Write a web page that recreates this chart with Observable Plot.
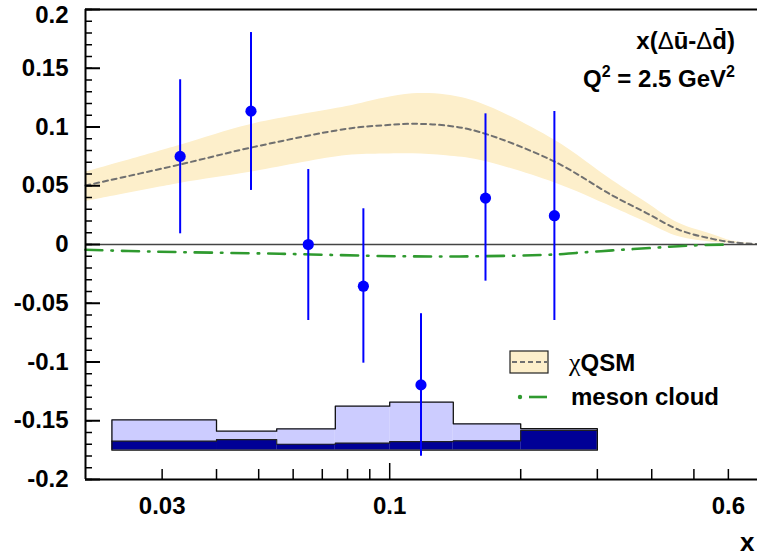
<!DOCTYPE html>
<html><head><meta charset="utf-8">
<script src="https://cdn.jsdelivr.net/npm/d3@7"></script>
<script src="https://cdn.jsdelivr.net/npm/@observablehq/plot@0.6"></script>
<style>
body{margin:0;background:#fff;}
#chart{position:relative;width:757px;height:556px;}
</style></head><body><div id="chart"></div>
<script>
// HERMES data points x(Δū-Δd̄)
const pointX  = [0.033, 0.048, 0.065, 0.087, 0.118, 0.166, 0.239];
const pointY  = [0.075, 0.1135, 0.0, -0.0355, -0.1195, 0.0395, 0.0245];
const pointHi = [0.1402, 0.1804, 0.0638, 0.0304, -0.0589, 0.1112, 0.1132];
const pointLo = [0.0091, 0.046, -0.0647, -0.101, -0.1802, -0.0312, -0.0647];

// chiral quark soliton model band
const qsmX   = [0.02, 0.0329, 0.0478, 0.0797, 0.097, 0.113, 0.135, 0.161, 0.239, 0.325, 0.388, 0.462, 0.551, 0.612, 0.7];
const qsmMid = [0.0502, 0.068, 0.0823, 0.0985, 0.1015, 0.1027, 0.1012, 0.0957, 0.0706, 0.0417, 0.027, 0.0125, 0.0048, 0.002, 0.0003];
const qsmHi  = [0.0615, 0.0843, 0.102, 0.1174, 0.1245, 0.1282, 0.1272, 0.1204, 0.089, 0.0545, 0.036, 0.018, 0.0085, 0.003, 0.0005];
const qsmLo  = [0.0366, 0.052, 0.0615, 0.0757, 0.0770, 0.0772, 0.0755, 0.0717, 0.0525, 0.0317, 0.019, 0.0065, 0.002, 0.001, 0.0001];

// meson cloud model
const mesonX = [0.02, 0.0282, 0.0559, 0.1054, 0.161, 0.239, 0.268, 0.325, 0.397, 0.483, 0.6];
const mesonY = [-0.0045, -0.006, -0.0079, -0.0100, -0.0100, -0.0085, -0.0072, -0.005, -0.003, -0.001, 0.0];

// systematic uncertainty histogram
const binLo    = [0.023, 0.04, 0.055, 0.075, 0.1, 0.14, 0.2];
const binHi    = [0.04, 0.055, 0.075, 0.1, 0.14, 0.2, 0.3];
const sysBase  = -0.175;
const darkTop  = [-0.1674, -0.166, -0.170, -0.1691, -0.1677, -0.1671, -0.1583];
const lightTop = [-0.1492, -0.1589, -0.1569, -0.1376, -0.1342, -0.1526, -0.1568];

// ticks
const yMajor = [-0.2, -0.15, -0.1, -0.05, 0, 0.05, 0.1, 0.15, 0.2];
const yLabels = [-0.2, -0.15, -0.1, -0.05, 0, 0.05, 0.1, 0.15];
const yTopLabel = [0.2];
const yMinor = d3.range(-20, 21).map(i => i / 100);
const xMinor = [0.03, 0.04, 0.05, 0.06, 0.07, 0.08, 0.09, 0.2, 0.3, 0.4, 0.5, 0.6];
const xMajor = [0.1];
const xLabels = [0.03, 0.1, 0.6];

const points = pointX.map((x, i) => ({x, y: pointY[i], hi: pointHi[i], lo: pointLo[i]}));
const qsm = qsmX.map((x, i) => ({x, mid: qsmMid[i], hi: qsmHi[i], lo: qsmLo[i]}));
const meson = mesonX.map((x, i) => ({x, y: mesonY[i]}));
const bins = binLo.map((lo, i) => ({lo, hi: binHi[i], base: sysBase, dark: darkTop[i], light: lightTop[i]}));
const n = bins.length;
const outline = [{x: binLo[0], y: sysBase}]
  .concat(bins.map(b => ({x: b.lo, y: b.light})))
  .concat([{x: binHi[n-1], y: lightTop[n-1]}, {x: binHi[n-1], y: sysBase}, {x: binLo[0], y: sysBase}]);
const darkLine = bins.map(b => ({x: b.lo, y: b.dark})).concat([{x: binHi[n-1], y: darkTop[n-1]}]);

const W = 757, H = 556, mL = 85, mR = 0, mT = 9, mB = 77;
const plotW = W - mL - mR, plotH = H - mT - mB;
const fmt = d => String(+d.toFixed(2));
const FONT = "'Liberation Sans', Arial, sans-serif";

const chart = Plot.plot({
  width: W, height: H, marginLeft: mL, marginRight: mR, marginTop: mT, marginBottom: mB,
  style: {fontFamily: FONT, fontSize: "24px", fontWeight: "bold", background: "#fff", overflow: "visible", color: "#000"},
  x: {type: "log", domain: [0.02, 0.7], axis: null},
  y: {domain: [-0.2, 0.2], axis: null},
  marks: [
    Plot.areaY(qsm, {x: "x", y1: "lo", y2: "hi", fill: "#fdefcb", curve: "catmull-rom"}),
    Plot.line(qsm, {x: "x", y: "mid", stroke: "#707070", strokeWidth: 2, strokeDasharray: "5,4", curve: "catmull-rom"}),
    Plot.ruleY([0], {stroke: "#444", strokeWidth: 1.3}),
    Plot.line(meson, {x: "x", y: "y", stroke: "#2f9a2f", strokeWidth: 2.6, strokeDasharray: "17,9,1.5,9", strokeLinecap: "round", curve: "catmull-rom"}),
    Plot.rect(bins, {x1: "lo", x2: "hi", y1: "base", y2: "dark", fill: "#000096"}),
    Plot.rect(bins, {x1: "lo", x2: "hi", y1: "dark", y2: "light", fill: "#ccccff"}),
    Plot.line(darkLine, {x: "x", y: "y", curve: "step-after", stroke: "#222", strokeWidth: 1.2}),
    Plot.line(outline, {x: "x", y: "y", curve: "step-after", stroke: "#111", strokeWidth: 1.3}),
    Plot.ruleX(points, {x: "x", y1: "lo", y2: "hi", stroke: "#0000ff", strokeWidth: 2}),
    Plot.dot(points, {x: "x", y: "y", r: 5.6, fill: "#0000ff"}),
    // frame and axes
    Plot.ruleX([0.02], {stroke: "#000", strokeWidth: 2}),
    Plot.ruleY([-0.2], {stroke: "#000", strokeWidth: 2}),
    Plot.ruleY([0.2], {stroke: "#000", strokeWidth: 2}),
    Plot.ruleY(yMinor, {y: d => d, insetRight: plotW - 7, stroke: "#000", strokeWidth: 1.5}),
    Plot.ruleY(yMajor, {y: d => d, insetRight: plotW - 15, stroke: "#000", strokeWidth: 2}),
    Plot.ruleX(xMinor, {x: d => d, insetTop: plotH - 10, stroke: "#000", strokeWidth: 1.5}),
    Plot.ruleX(xMajor, {x: d => d, insetTop: plotH - 16, stroke: "#000", strokeWidth: 1.5}),
    Plot.axisY({ticks: yLabels, tickSize: 0, tickPadding: 17, tickFormat: fmt, label: null}),
    Plot.axisY({ticks: yTopLabel, tickSize: 0, tickPadding: 17, tickFormat: fmt, label: null, dy: 6}),
    Plot.axisX({ticks: xLabels, tickSize: 0, tickPadding: 17, tickFormat: d => String(d), label: null}),
    Plot.text(["x"], {frameAnchor: "bottom-right", textAnchor: "end", lineAnchor: "middle", dy: 63, dx: -3, fontSize: 26})
  ]
});
document.getElementById("chart").appendChild(chart);

const svg = d3.select(chart);
// annotations
const ann = svg.append("g").attr("font-family", FONT).attr("font-weight", "bold").attr("font-size", 24).attr("text-anchor", "end").attr("fill", "#000");
const a1 = ann.append("text").attr("x", 735).attr("y", 49);
a1.append("tspan").text("x(");
a1.append("tspan").attr("font-weight", "normal").text("\u0394");
a1.append("tspan").text("\u016b-");
a1.append("tspan").attr("font-weight", "normal").text("\u0394");
a1.append("tspan").text("d\u0304)");
const a2 = ann.append("text").attr("x", 735).attr("y", 87);
a2.append("tspan").text("Q");
a2.append("tspan").attr("font-size", 16).attr("dy", -10).text("2");
a2.append("tspan").attr("dy", 10).text(" = 2.5 GeV");
a2.append("tspan").attr("font-size", 16).attr("dy", -10).text("2");

// legend
const lg = svg.append("g").attr("class", "legend").attr("font-family", FONT).attr("font-weight", "bold").attr("font-size", 24).attr("text-anchor", "start").attr("fill", "#000");
lg.append("rect").attr("x", 510).attr("y", 351).attr("width", 38).attr("height", 22)
  .attr("fill", "#fdefcb").attr("stroke", "#222").attr("stroke-width", 1.2);
lg.append("line").attr("x1", 512).attr("x2", 547).attr("y1", 362).attr("y2", 362)
  .attr("stroke", "#707070").attr("stroke-width", 2).attr("stroke-dasharray", "5,3");
const t1 = lg.append("text").attr("x", 569).attr("y", 371);
t1.append("tspan").attr("font-family", "'Liberation Serif', serif").attr("font-weight", "normal").attr("font-size", 26).text("\u03c7");
t1.append("tspan").text("QSM");
lg.append("circle").attr("cx", 520).attr("cy", 397).attr("r", 2.2).attr("fill", "#2f9a2f");
lg.append("line").attr("x1", 529).attr("x2", 547).attr("y1", 397).attr("y2", 397)
  .attr("stroke", "#2f9a2f").attr("stroke-width", 2.6);
lg.append("text").attr("x", 571).attr("y", 405).text("meson cloud");
</script>
</body></html>
